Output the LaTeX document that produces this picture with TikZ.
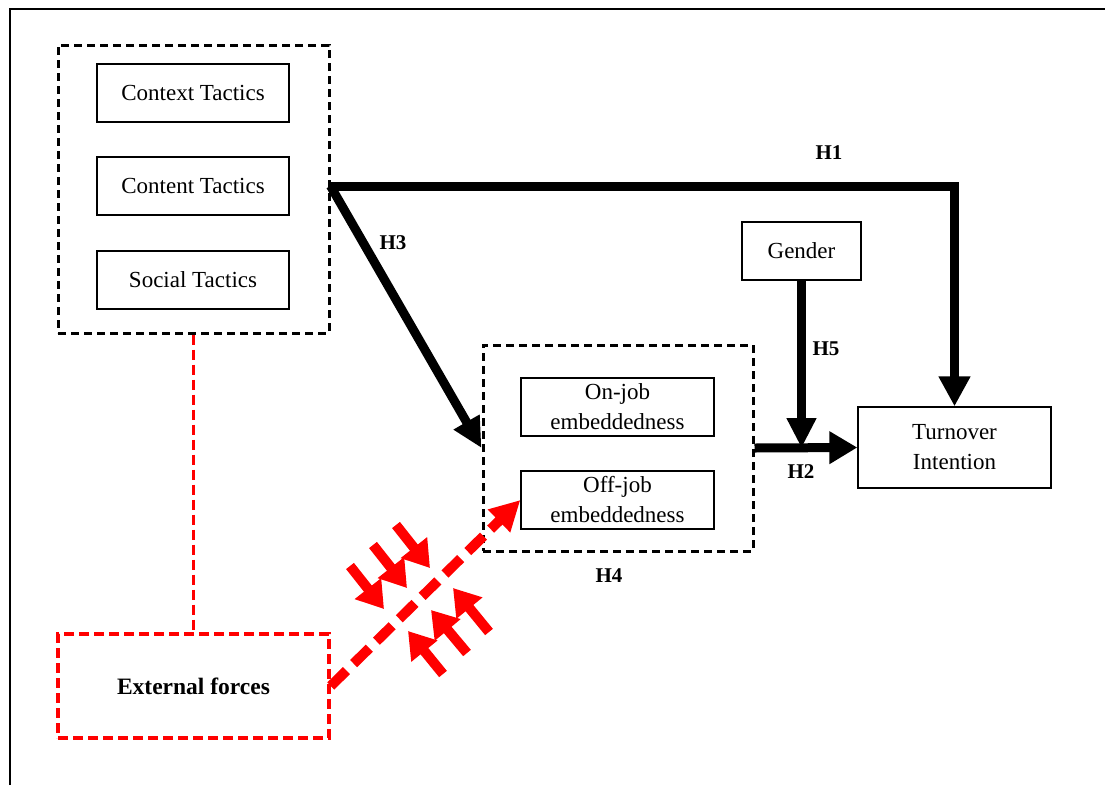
\documentclass[tikz,border=0pt]{standalone}
\usepackage{fontspec}
\setmainfont{Liberation Serif}
\usetikzlibrary{arrows.meta}
\tikzset{
  box/.style={draw, line width=1.3pt, minimum width=192pt, minimum height=58pt, inner sep=0pt,
    font=\fontsize{23}{30}\selectfont, align=center},
  grp/.style={draw, line width=3pt, dash pattern=on 8pt off 5pt, inner sep=0pt},
  redgrp/.style={draw=red, line width=3.5pt, dash pattern=on 10pt off 5pt, inner sep=0pt,
    font=\bfseries\fontsize{23.5}{30}\selectfont},
  hlab/.style={font=\bfseries\fontsize{21}{24}\selectfont, inner sep=0pt},
  bigarrow/.style={line width=9pt, -{Triangle[length=30pt, width=30pt]}},
  redarrow/.style={red, line width=10pt, dash pattern=on 22pt off 10pt, -{Triangle[length=30pt, width=30pt]}},
  smallred/.style={red, line width=10pt, -{Triangle[length=26pt, width=32pt]}},
}
\begin{document}
\begin{tikzpicture}[x=1pt,y=-1pt]
\useasboundingbox (0,0) rectangle (1105,785);
\draw[line width=2pt] (10,785) -- (10,9) -- (1105,9);

% left group
\node[grp, minimum width=271pt, minimum height=288pt] (g1) at (193.5,189) {};
\node[box] (ctx) at (193,93) {Context Tactics};
\node[box] (cnt) at (193,186) {Content Tactics};
\node[box] (soc) at (193,280) {Social Tactics};

% embeddedness group
\node[grp, minimum width=270pt, minimum height=206pt] (g2) at (618,448) {};
\node[box, minimum width=193pt] (on) at (617.5,407) {On-job\\embeddedness};
\node[box, minimum width=193pt] (off) at (617.5,500) {Off-job\\embeddedness};

% gender and turnover
\node[box, minimum width=119pt] (gen) at (801.5,251) {Gender};
\node[box, minimum width=193pt, minimum height=81pt] (turn) at (954.5,447.5) {Turnover\\Intention};

% external forces
\node[redgrp, minimum width=271pt, minimum height=104pt] (ext) at (193.5,686) {External forces};

% connectors
\draw[bigarrow] (g1.east |- cnt.east) -| (turn.north);
\draw[bigarrow, -{Triangle[length=30pt, width=28pt]}] (g1.east |- cnt.east) -- (g2.west);
\draw[bigarrow, -{Triangle[length=28pt, width=31pt]}] (g2.east) -- (turn.west);
\draw[bigarrow, -{Triangle[length=30pt, width=28pt]}] (gen.south) -- (gen.south |- g2.east);
\draw[red, line width=3.5pt, dash pattern=on 10pt off 5pt] (g1.south) -- (ext.north);
\draw[redarrow] (ext.east) -- (off.west);

% small pressure arrows
\coordinate (a1s) at (350,566); \coordinate (a1e) at (384,609);
\coordinate (a2s) at (373,545); \coordinate (a2e) at (407,588);
\coordinate (a3s) at (396,525); \coordinate (a3e) at (430,568);
\coordinate (b1s) at (443,674); \coordinate (b1e) at (408,631);
\coordinate (b2s) at (467,653); \coordinate (b2e) at (431,610);
\coordinate (b3s) at (489,632); \coordinate (b3e) at (453,588);
\foreach \p in {a1,a2,a3,b1,b2,b3} \draw[smallred] (\p s) -- (\p e);

% labels
\node[hlab] (h1) at (829,153) {H1};
\node[hlab] (h3) at (393,243) {H3};
\node[hlab] (h5) at (826,349) {H5};
\node[hlab] (h2) at (801,472) {H2};
\node[hlab] (h4) at (609,576) {H4};
\end{tikzpicture}
\end{document}
